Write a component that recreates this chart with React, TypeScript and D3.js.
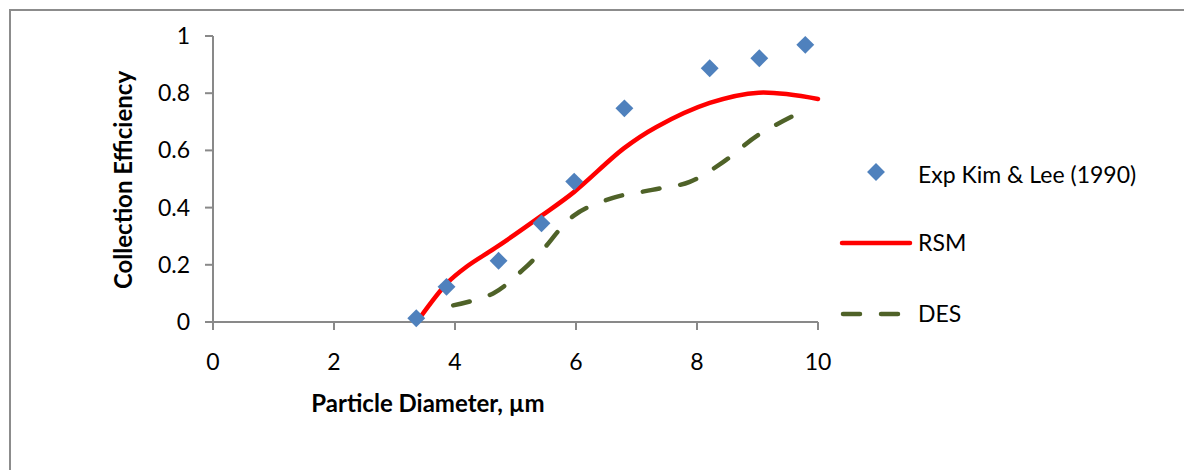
import React from "react";
import * as d3 from "d3";

// Experimental measurements (Kim & Lee, 1990)
const expX = [3.36, 3.86, 4.72, 5.43, 5.97, 6.8, 8.21, 9.03, 9.79];
const expY = [0.013, 0.123, 0.214, 0.345, 0.491, 0.747, 0.887, 0.922, 0.969];

// RSM prediction
const rsmX = [3.42, 3.87, 4.19, 4.71, 5.42, 5.97, 6.79, 7.33, 8.21, 9.02, 10.0];
const rsmY = [0.015, 0.136, 0.193, 0.265, 0.37, 0.455, 0.607, 0.682, 0.766, 0.802, 0.78];

// DES prediction
const desX = [3.97, 4.63, 5.12, 5.42, 5.97, 6.61, 7.26, 7.88, 8.43, 9.02, 9.85];
const desY = [0.058, 0.1, 0.182, 0.245, 0.373, 0.434, 0.462, 0.49, 0.559, 0.655, 0.748];

const xTicks = [0, 2, 4, 6, 8, 10];
const yTicks = [0, 0.2, 0.4, 0.6, 0.8, 1];
const yTickLabels = ["0", "0.2", "0.4", "0.6", "0.8", "1"];

const seriesNames = ["Exp Kim & Lee (1990)", "RSM", "DES"];

const W = 1184;
const H = 470;
const FONT = "Lato, 'Open Sans', sans-serif";
const AXIS = "#898989";

export default function App() {
  const x = d3.scaleLinear().domain([0, 10]).range([213, 818]);
  const y = d3.scaleLinear().domain([0, 1]).range([322, 36]);

  const line = d3
    .line<[number, number]>()
    .x((d) => x(d[0]))
    .y((d) => y(d[1]))
    .curve(d3.curveCatmullRom.alpha(0.5));

  const rsmPts = rsmX.map((v, i) => [v, rsmY[i]] as [number, number]);
  const desPts = desX.map((v, i) => [v, desY[i]] as [number, number]);

  const diamond = d3.symbol().type(d3.symbolSquare).size(160)();

  return (
    <svg
      width={W}
      height={H}
      style={{ position: "absolute", left: 0, top: 0, background: "#fff" }}
      fontFamily={FONT}
    >
      <rect x={0} y={0} width={W} height={H} fill="#fff" />
      {/* chart frame */}
      <path d={`M10,${H} V10 H${W}`} fill="none" stroke="#8c8c8c" strokeWidth={2} />

      {/* axes */}
      <line x1={x(0)} x2={x(10)} y1={y(0)} y2={y(0)} stroke={AXIS} strokeWidth={2} />
      <line x1={x(0)} x2={x(0)} y1={y(0)} y2={y(1)} stroke={AXIS} strokeWidth={2} />
      {xTicks.map((t) => (
        <g key={"xt" + t}>
          <line x1={x(t)} x2={x(t)} y1={y(0)} y2={y(0) + 8} stroke={AXIS} strokeWidth={2} />
          <text x={x(t)} y={y(0) + 48} textAnchor="middle" fontSize={23} fill="#000">
            {t}
          </text>
        </g>
      ))}
      {yTicks.map((t, i) => (
        <g key={"yt" + t}>
          <line x1={x(0) - 8} x2={x(0)} y1={y(t)} y2={y(t)} stroke={AXIS} strokeWidth={2} />
          <text x={190} y={y(t) + 8} textAnchor="end" fontSize={23} fill="#000">
            {yTickLabels[i]}
          </text>
        </g>
      ))}

      {/* axis titles */}
      <text x={428} y={412} textAnchor="middle" fontSize={24} fontWeight="bold" fill="#000">
        Particle Diameter, µm
      </text>
      <text
        transform={`translate(132,180) rotate(-90)`}
        textAnchor="middle"
        fontSize={24}
        fontWeight="bold"
        fill="#000"
      >
        Collection Efficiency
      </text>

      {/* model curves */}
      <path d={line(desPts) || ""} fill="none" stroke="#4F6228" strokeWidth={4.5}
        strokeDasharray="17 21" strokeLinecap="round" />
      <path d={line(rsmPts) || ""} fill="none" stroke="#FF0000" strokeWidth={4.5}
        strokeLinecap="round" strokeLinejoin="round" />

      {/* experimental points */}
      {expX.map((v, i) => (
        <path key={"e" + i} d={diamond || ""} transform={`translate(${x(v)},${y(expY[i])}) rotate(45)`}
          fill="#4F81BD" />
      ))}

      {/* legend */}
      <g>
        <path d={diamond || ""} transform="translate(876,172) rotate(45)" fill="#4F81BD" />
        <text x={918} y={183} fontSize={23} fill="#000">{seriesNames[0]}</text>
        <line x1={842} x2={910} y1={243} y2={243} stroke="#FF0000" strokeWidth={4.5} strokeLinecap="round" />
        <text x={918} y={251} fontSize={23} fill="#000">{seriesNames[1]}</text>
        <line x1={843} x2={910} y1={314} y2={314} stroke="#4F6228" strokeWidth={4.5}
          strokeDasharray="17 21" strokeLinecap="round" />
        <text x={918} y={322} fontSize={23} fill="#000">{seriesNames[2]}</text>
      </g>
    </svg>
  );
}
